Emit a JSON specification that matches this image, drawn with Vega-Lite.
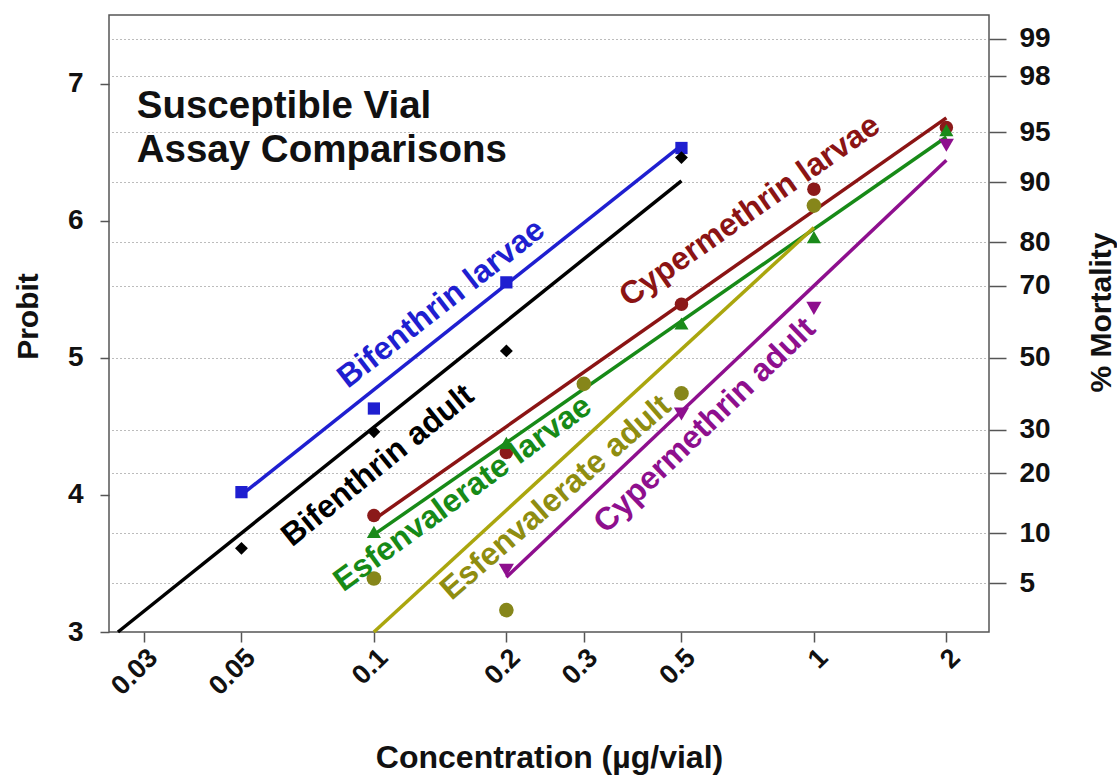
{
  "$schema": "https://vega.github.io/schema/vega-lite/v6.json",
  "width": 880,
  "height": 617,
  "autosize": {"type": "none"},
  "padding": {"left": 109, "top": 15, "right": 128, "bottom": 143},
  "background": "white",
  "config": {
    "font": "Liberation Sans",
    "view": {"stroke": "#555555", "strokeWidth": 1.5},
    "axis": {
      "labelFont": "Liberation Sans",
      "titleFont": "Liberation Sans",
      "labelFontWeight": "bold",
      "titleFontWeight": "bold",
      "labelColor": "#111111",
      "titleColor": "#111111",
      "domain": false,
      "tickColor": "#555555",
      "tickWidth": 1.5
    }
  },
  "datasets": {
    "lines": [
      {"series": "Bifenthrin larvae", "conc": 0.05, "probit": 4.0},
      {"series": "Bifenthrin larvae", "conc": 0.5, "probit": 6.55},
      {"series": "Bifenthrin adult", "conc": 0.0262, "probit": 3.0},
      {"series": "Bifenthrin adult", "conc": 0.5, "probit": 6.29},
      {"series": "Cypermethrin larvae", "conc": 0.1, "probit": 3.82},
      {"series": "Cypermethrin larvae", "conc": 2, "probit": 6.75},
      {"series": "Esfenvalerate larvae", "conc": 0.1, "probit": 3.71},
      {"series": "Esfenvalerate larvae", "conc": 2, "probit": 6.61},
      {"series": "Esfenvalerate adult", "conc": 0.1, "probit": 3.0},
      {"series": "Esfenvalerate adult", "conc": 1, "probit": 5.95},
      {"series": "Cypermethrin adult", "conc": 0.2, "probit": 3.4},
      {"series": "Cypermethrin adult", "conc": 2, "probit": 6.44}
    ],
    "points": [
      {"series": "Bifenthrin larvae", "conc": 0.05, "probit": 4.02},
      {"series": "Bifenthrin larvae", "conc": 0.1, "probit": 4.63},
      {"series": "Bifenthrin larvae", "conc": 0.2, "probit": 5.55},
      {"series": "Bifenthrin larvae", "conc": 0.5, "probit": 6.53},
      {"series": "Bifenthrin adult", "conc": 0.05, "probit": 3.61},
      {"series": "Bifenthrin adult", "conc": 0.1, "probit": 4.46},
      {"series": "Bifenthrin adult", "conc": 0.2, "probit": 5.05},
      {"series": "Bifenthrin adult", "conc": 0.5, "probit": 6.46},
      {"series": "Cypermethrin larvae", "conc": 0.1, "probit": 3.85},
      {"series": "Cypermethrin larvae", "conc": 0.2, "probit": 4.31},
      {"series": "Cypermethrin larvae", "conc": 0.5, "probit": 5.39},
      {"series": "Cypermethrin larvae", "conc": 1, "probit": 6.23},
      {"series": "Cypermethrin larvae", "conc": 2, "probit": 6.68},
      {"series": "Esfenvalerate adult", "conc": 0.1, "probit": 3.39},
      {"series": "Esfenvalerate adult", "conc": 0.2, "probit": 3.16},
      {"series": "Esfenvalerate adult", "conc": 0.3, "probit": 4.81},
      {"series": "Esfenvalerate adult", "conc": 0.5, "probit": 4.74},
      {"series": "Esfenvalerate adult", "conc": 1, "probit": 6.11},
      {"series": "Esfenvalerate larvae", "conc": 0.1, "probit": 3.73},
      {"series": "Esfenvalerate larvae", "conc": 0.2, "probit": 4.38},
      {"series": "Esfenvalerate larvae", "conc": 0.5, "probit": 5.25},
      {"series": "Esfenvalerate larvae", "conc": 1, "probit": 5.88},
      {"series": "Esfenvalerate larvae", "conc": 2, "probit": 6.66},
      {"series": "Cypermethrin adult", "conc": 0.2, "probit": 3.45},
      {"series": "Cypermethrin adult", "conc": 0.5, "probit": 4.59},
      {"series": "Cypermethrin adult", "conc": 1, "probit": 5.36},
      {"series": "Cypermethrin adult", "conc": 2, "probit": 6.55}
    ],
    "labels": [
      {"text": "Bifenthrin larvae", "conc": 0.1422, "probit": 5.396},
      {"text": "Bifenthrin adult", "conc": 0.102, "probit": 4.215},
      {"text": "Cypermethrin larvae", "conc": 0.7145, "probit": 6.074},
      {"text": "Esfenvalerate larvae", "conc": 0.1591, "probit": 4.011},
      {"text": "Esfenvalerate adult", "conc": 0.2588, "probit": 3.982},
      {"text": "Cypermethrin adult", "conc": 0.5645, "probit": 4.507}
    ],
    "title": [
      {"text": "Susceptible Vial", "conc": 0.0289, "probit": 6.751},
      {"text": "Assay Comparisons", "conc": 0.0289, "probit": 6.431}
    ]
  },
  "layer": [
    {
      "data": {"name": "points"},
      "mark": {"type": "point", "opacity": 0},
      "encoding": {
        "y": {
          "field": "probit", "type": "quantitative",
          "scale": {"domain": [3, 7.5], "nice": false, "zero": false},
          "axis": {
            "orient": "right",
            "values": [3.3551, 3.7184, 4.1584, 4.4756, 5, 5.5244, 5.8416, 6.2816, 6.6449, 7.0537, 7.3263],
            "labelExpr": "datum.value > 7.2 ? '99' : datum.value > 7 ? '98' : datum.value > 6.5 ? '95' : datum.value > 6.1 ? '90' : datum.value > 5.7 ? '80' : datum.value > 5.3 ? '70' : datum.value > 4.9 ? '50' : datum.value > 4.3 ? '30' : datum.value > 4 ? '20' : datum.value > 3.5 ? '10' : '5'",
            "grid": true,
            "gridColor": "#7a7a7a",
            "gridDash": [1, 3],
            "gridWidth": 1.2,
            "tickSize": 17,
            "labelPadding": 13,
            "labelFontSize": 28,
            "labelAlign": "left",
            "title": "% Mortality",
            "titleFontSize": 30,
            "titleAngle": 270,
            "titleBaseline": "middle",
            "titleX": 112,
            "titleY": 297
          }
        }
      }
    },
    {
      "data": {"name": "lines"},
      "mark": {"type": "line", "strokeWidth": 3.5},
      "encoding": {
        "x": {
          "field": "conc", "type": "quantitative",
          "scale": {"type": "log", "domain": [0.025, 2.5], "nice": false},
          "axis": {
            "values": [0.03, 0.05, 0.1, 0.2, 0.3, 0.5, 1, 2],
            "format": "~g",
            "grid": false,
            "tickSize": 10,
            "labelAngle": -45,
            "labelAlign": "right",
            "labelBaseline": "top",
            "labelPadding": 2,
            "labelFontSize": 27,
            "title": "Concentration (µg/vial)",
            "titleFontSize": 32,
            "titleY": 110,
            "titleBaseline": "top"
          }
        },
        "y": {
          "field": "probit", "type": "quantitative",
          "scale": {"domain": [3, 7.5], "nice": false, "zero": false},
          "axis": {
            "orient": "left",
            "values": [3, 4, 5, 6, 7],
            "format": "d",
            "grid": false,
            "tickSize": 9,
            "labelPadding": 17,
            "labelFontSize": 28,
            "title": "Probit",
            "titleFontSize": 30,
            "titleAngle": 270,
            "titleBaseline": "middle",
            "titleX": -81,
            "titleY": 301
          }
        },
        "color": {
          "field": "series", "type": "nominal", "legend": null,
          "scale": {
            "domain": ["Bifenthrin larvae", "Bifenthrin adult", "Cypermethrin larvae", "Esfenvalerate larvae", "Esfenvalerate adult", "Cypermethrin adult"],
            "range": ["#1f1fd0", "#000000", "#8b1414", "#178a17", "#aaa60e", "#8e0f8e"]
          }
        },
        "detail": {"field": "series"}
      }
    },
    {
      "data": {"name": "points"},
      "mark": {"type": "point", "filled": true, "opacity": 1},
      "encoding": {
        "x": {"field": "conc", "type": "quantitative"},
        "y": {"field": "probit", "type": "quantitative", "axis": null},
        "color": {
          "field": "series", "type": "nominal", "legend": null,
          "scale": {
            "domain": ["Bifenthrin larvae", "Bifenthrin adult", "Cypermethrin larvae", "Esfenvalerate larvae", "Esfenvalerate adult", "Cypermethrin adult"],
            "range": ["#1f1fd0", "#000000", "#8b1a1a", "#1a8a1a", "#86861a", "#8e0f8e"]
          }
        },
        "shape": {
          "field": "series", "type": "nominal", "legend": null,
          "scale": {
            "domain": ["Bifenthrin larvae", "Bifenthrin adult", "Cypermethrin larvae", "Esfenvalerate larvae", "Esfenvalerate adult", "Cypermethrin adult"],
            "range": ["square", "diamond", "circle", "triangle-up", "circle", "triangle-down"]
          }
        },
        "size": {
          "field": "series", "type": "nominal", "legend": null,
          "scale": {
            "domain": ["Bifenthrin larvae", "Bifenthrin adult", "Cypermethrin larvae", "Esfenvalerate larvae", "Esfenvalerate adult", "Cypermethrin adult"],
            "range": [150, 230, 150, 170, 160, 170]
          }
        }
      }
    },
    {
      "data": {"name": "title"},
      "mark": {"type": "text", "font": "Liberation Sans", "fontWeight": "bold", "fontSize": 38.5, "align": "left", "baseline": "alphabetic", "color": "#111111"},
      "encoding": {
        "x": {"field": "conc", "type": "quantitative"},
        "y": {"field": "probit", "type": "quantitative", "axis": null},
        "text": {"field": "text"}
      }
    },
    {
      "data": {"name": "labels"},
      "transform": [{"filter": "datum.text == 'Bifenthrin larvae'"}],
      "mark": {"type": "text", "font": "Liberation Sans", "fontWeight": "bold", "fontSize": 32, "align": "center", "baseline": "middle", "angle": -38, "color": "#1f1fd0"},
      "encoding": {
        "x": {"field": "conc", "type": "quantitative"},
        "y": {"field": "probit", "type": "quantitative", "axis": null},
        "text": {"field": "text"}
      }
    },
    {
      "data": {"name": "labels"},
      "transform": [{"filter": "datum.text == 'Bifenthrin adult'"}],
      "mark": {"type": "text", "font": "Liberation Sans", "fontWeight": "bold", "fontSize": 32, "align": "center", "baseline": "middle", "angle": -39, "color": "#000000"},
      "encoding": {
        "x": {"field": "conc", "type": "quantitative"},
        "y": {"field": "probit", "type": "quantitative", "axis": null},
        "text": {"field": "text"}
      }
    },
    {
      "data": {"name": "labels"},
      "transform": [{"filter": "datum.text == 'Cypermethrin larvae'"}],
      "mark": {"type": "text", "font": "Liberation Sans", "fontWeight": "bold", "fontSize": 32, "align": "center", "baseline": "middle", "angle": -35, "color": "#8b1414"},
      "encoding": {
        "x": {"field": "conc", "type": "quantitative"},
        "y": {"field": "probit", "type": "quantitative", "axis": null},
        "text": {"field": "text"}
      }
    },
    {
      "data": {"name": "labels"},
      "transform": [{"filter": "datum.text == 'Esfenvalerate larvae'"}],
      "mark": {"type": "text", "font": "Liberation Sans", "fontWeight": "bold", "fontSize": 32, "align": "center", "baseline": "middle", "angle": -36, "color": "#178a17"},
      "encoding": {
        "x": {"field": "conc", "type": "quantitative"},
        "y": {"field": "probit", "type": "quantitative", "axis": null},
        "text": {"field": "text"}
      }
    },
    {
      "data": {"name": "labels"},
      "transform": [{"filter": "datum.text == 'Esfenvalerate adult'"}],
      "mark": {"type": "text", "font": "Liberation Sans", "fontWeight": "bold", "fontSize": 32, "align": "center", "baseline": "middle", "angle": -41, "color": "#8f8d10"},
      "encoding": {
        "x": {"field": "conc", "type": "quantitative"},
        "y": {"field": "probit", "type": "quantitative", "axis": null},
        "text": {"field": "text"}
      }
    },
    {
      "data": {"name": "labels"},
      "transform": [{"filter": "datum.text == 'Cypermethrin adult'"}],
      "mark": {"type": "text", "font": "Liberation Sans", "fontWeight": "bold", "fontSize": 32, "align": "center", "baseline": "middle", "angle": -44, "color": "#8e0f8e"},
      "encoding": {
        "x": {"field": "conc", "type": "quantitative"},
        "y": {"field": "probit", "type": "quantitative", "axis": null},
        "text": {"field": "text"}
      }
    }
  ],
  "resolve": {"axis": {"y": "independent"}, "scale": {"color": "independent"}}
}
